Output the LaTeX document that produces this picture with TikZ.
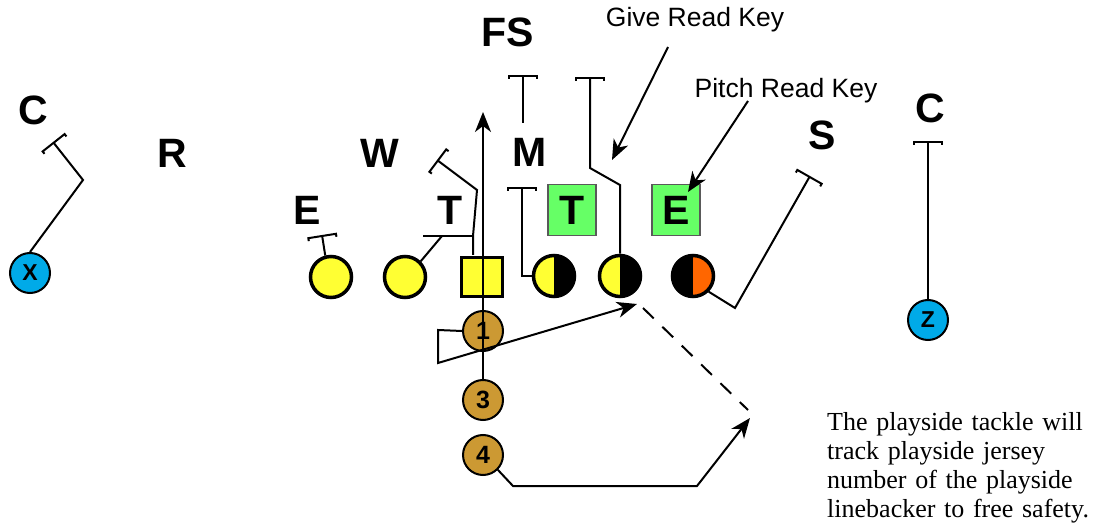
\documentclass[tikz,border=0pt]{standalone}
\usepackage{fontspec}
\setmainfont{Liberation Serif}
\setsansfont{Liberation Sans}
\usetikzlibrary{arrows.meta}
\definecolor{olyel}{HTML}{FFFF33}
\definecolor{hotorg}{HTML}{FF6600}
\definecolor{keygrn}{HTML}{66FF66}
\definecolor{backtan}{HTML}{CC9933}
\definecolor{wrblue}{HTML}{00AAE8}
\tikzset{
  lmn/.style={circle, draw=black, line width=3.5pt, fill=olyel, minimum size=41pt, inner sep=0pt},
  ctrbox/.style={rectangle, draw=black, line width=3.5pt, fill=olyel, minimum width=41pt, minimum height=39pt, inner sep=0pt},
  dsplit/.style={lmn, path picture={\fill[black] (path picture bounding box.north) rectangle (path picture bounding box.south east);}},
  dhot/.style={lmn, fill=hotorg, path picture={\fill[black] (path picture bounding box.north west) rectangle (path picture bounding box.south);}},
  bck/.style={circle, draw=black, line width=2pt, fill=backtan, minimum size=40pt, inner sep=0pt, font=\fontsize{25}{25}\selectfont\sffamily\bfseries},
  wr/.style={circle, draw=black, line width=2pt, fill=wrblue, minimum size=40pt, inner sep=0pt, font=\fontsize{23}{23}\selectfont\sffamily\bfseries},
  dlbl/.style={font=\fontsize{41}{41}\selectfont\sffamily\bfseries, inner sep=0pt},
  keybox/.style={dlbl, draw=black!65, line width=1.5pt, fill=keygrn, minimum width=48pt, minimum height=51pt},
  rte/.style={draw=black, line width=2pt},
  blk/.style={rte, -{Bracket[width=30pt, length=3pt]}},
  arr/.style={rte, -{Stealth[length=20pt, width=16pt, inset=6pt]}},
  keytxt/.style={font=\fontsize{26.5}{26.5}\selectfont\sffamily, inner sep=0pt},
  note/.style={font=\fontsize{26}{29}\selectfont, inner sep=0pt, anchor=north west, align=left, text width=275pt},
}
\begin{document}
\begin{tikzpicture}[x=1pt,y=1pt]
  \useasboundingbox[fill=white] (0,0) rectangle (1101,-529);
  % defense
  \node[dlbl] (dC1) at (33,-110) {C};
  \node[dlbl] (dR) at (172,-153) {R};
  \node[dlbl] (dW) at (380,-153) {W};
  \node[dlbl] (dE) at (307,-210) {E};
  \node[dlbl] (dT) at (450,-210) {T};
  \node[dlbl] (dM) at (530,-152) {M};
  \node[dlbl] (dFS) at (508,-32) {FS};
  \node[dlbl] (dS) at (822,-135) {S};
  \node[dlbl] (dC2) at (930,-108) {C};
  \node[keybox] (kT) at (572,-210) {T};
  \node[keybox] (kE) at (676,-210) {E};
  % offense
  \node[lmn] (lE) at (331,-277) {};
  \node[lmn] (lG) at (405,-277) {};
  \node[ctrbox] (ctr) at (482,-277) {};
  \node[dsplit] (rG) at (554,-276) {};
  \node[dsplit] (rT) at (620,-276) {};
  \node[dhot] (rE) at (693,-276) {};
  \node[bck] (bQ) at (483,-331) {1};
  \node[bck] (bF) at (483,-400) {3};
  \node[bck] (bT) at (483,-455) {4};
  \node[wr] (wX) at (30,-273) {X};
  \node[wr] (wZ) at (928,-320) {Z};
  % keys and note
  \node[keytxt] (give) at (695,-20) {Give Read Key};
  \node[keytxt] (pitch) at (786,-91) {Pitch Read Key};
  \node[note] (txt) at (827,-412) {The playside tackle will track playside jersey number of the playside linebacker to free safety.};
  % bend points
  \coordinate (xK) at (83,-180);
  \coordinate (xB) at (53,-142);
  \coordinate (eB) at (322,-235);
  \coordinate (gB) at (442,-236);
  \coordinate (gL) at (423,-236);
  \coordinate (cS) at (473,-255);
  \coordinate (cK) at (473,-236);
  \coordinate (cW) at (477,-190);
  \coordinate (wB) at (437,-160);
  \coordinate (qTop) at (483,-112);
  \coordinate (mB) at (522,-187);
  \coordinate (mS) at (523,-123);
  \coordinate (fB) at (523,-75);
  \coordinate (tK) at (620,-185);
  \coordinate (tW) at (590,-168);
  \coordinate (tB) at (590,-77);
  \coordinate (sK) at (735,-308);
  \coordinate (sB) at (810,-176);
  \coordinate (zB) at (928,-141);
  \coordinate (qL) at (438,-330);
  \coordinate (qD) at (438,-363);
  \coordinate (qP) at (637,-304);
  \coordinate (dA) at (643,-308);
  \coordinate (dB) at (748,-410);
  \coordinate (hA) at (513,-486);
  \coordinate (hB) at (697,-486);
  \coordinate (hP) at (750,-418);
  \coordinate (gvA) at (668,-47);
  \coordinate (gvP) at (612,-160);
  \coordinate (ptA) at (748,-101);
  \coordinate (ptP) at (688,-192);
  % blocks
  \draw[blk] (wX.north) -- (xK) -- (xB);
  \draw[blk] (lE.105) -- (eB);
  \draw[rte] (lG.45) -- (gB);
  \draw[rte] (gL) -- (cK);
  \draw[blk] (cS) -- (cK) -- (cW) -- (wB);
  \draw[blk] (rG.west) -| (mB);
  \draw[blk] (mS) -- (fB);
  \draw[blk] (rT.north) -- (tK) -- (tW) -- (tB);
  \draw[blk] (rE.south east) -- (sK) -- (sB);
  \draw[blk] (wZ.north) -- (zB);
  % backs
  \draw[arr] (bF.north) -- (qTop);
  \draw[arr] (bQ.west) -- (qL) -- (qD) -- (qP);
  \draw[rte, dash pattern=on 15pt off 12pt] (dA) -- (dB);
  \draw[arr] (bT.south east) -- (hA) -- (hB) -- (hP);
  % read keys
  \draw[arr] (gvA) -- (gvP);
  \draw[arr] (ptA) -- (ptP);
\end{tikzpicture}
\end{document}
